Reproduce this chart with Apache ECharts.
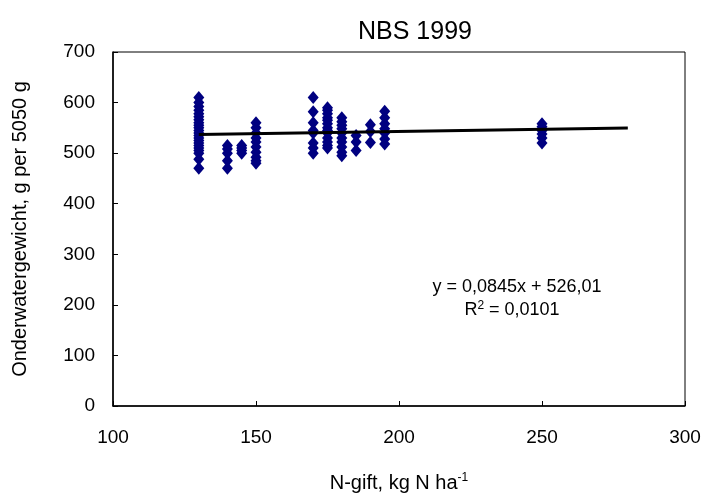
<!DOCTYPE html>
<html><head><meta charset="utf-8">
<script src="https://cdn.jsdelivr.net/npm/echarts@6/dist/echarts.min.js"></script>
<style>html,body{margin:0;padding:0;background:#fff}#c{width:706px;height:498px}</style>
</head><body><div id="c"></div>
<script>
// N-gift (x) groups and observed values (y)
const x130 = [610,600,592,585,578,572,566,560,555,550,545,540,535,530,525,520,515,510,505,500,488,470];
const x140 = [515,508,500,485,470];
const x145 = [515,510,505,500];
const x150 = [560,550,540,530,522,512,502,492,485,480];
const x170 = [610,582,560,545,540,520,510,500];
const x175 = [590,585,578,570,565,558,550,545,540,530,522,515,510];
const x180 = [570,562,555,548,540,530,522,512,502,495];
const x185 = [535,522,505];
const x190 = [556,543,521];
const x195 = [583,570,558,548,540,528,518];
const x250 = [558,552,545,538,530,520];
const groups = [[130,x130],[140,x140],[145,x145],[150,x150],[170,x170],[175,x175],[180,x180],[185,x185],[190,x190],[195,x195],[250,x250]];
const trendCoef = [0.0845, 526.01];
const trendRange = [130, 280];

const points = [];
groups.forEach(([x, ys]) => ys.forEach(y => points.push([x, y])));
const trend = trendRange.map(x => [x, trendCoef[0]*x + trendCoef[1]]);

const FONT = '"Liberation Sans",Arial,sans-serif';
const chart = echarts.init(document.getElementById('c'));
chart.setOption({
  animation:false,
  backgroundColor:'#fff',
  title:{text:'NBS 1999',left:410,top:15,textAlign:'center',
    textStyle:{fontFamily:FONT,fontSize:25,fontWeight:'normal',color:'#000'}},
  grid:{left:113,top:52,width:572,height:354,show:true,borderColor:'#000',borderWidth:1,
    containLabel:false,outerBoundsMode:'none'},
  xAxis:{type:'value',min:100,max:300,interval:50,
    axisLine:{show:true,lineStyle:{color:'#000',width:1.5}},
    axisTick:{show:true,inside:true,length:5,lineStyle:{color:'#000'}},
    splitLine:{show:false},
    axisLabel:{fontFamily:FONT,fontSize:19,color:'#000',margin:22},
    name:'N-gift, kg N ha{sup|-1}',nameLocation:'middle',nameGap:66,
    nameTextStyle:{fontFamily:FONT,fontSize:20,color:'#000',
      rich:{sup:{fontFamily:FONT,fontSize:12,color:'#000',verticalAlign:'top',padding:[0,0,10,0]}}}
  },
  yAxis:{type:'value',min:0,max:700,interval:100,
    axisLine:{show:true,lineStyle:{color:'#000',width:1.5}},
    axisTick:{show:true,inside:true,length:5,lineStyle:{color:'#000'}},
    splitLine:{show:false},
    axisLabel:{fontFamily:FONT,fontSize:19,color:'#000',margin:18},
    name:'Onderwatergewicht, g per 5050 g',nameLocation:'middle',nameGap:83,
    nameTextStyle:{fontFamily:FONT,fontSize:20,color:'#000'}
  },
  graphic:[
    {type:'text',style:{text:'y = 0,0845x + 526,01',x:517,y:287,textAlign:'center',textVerticalAlign:'middle',
      fontFamily:FONT,fontSize:18,fill:'#000'}},
    {type:'text',style:{text:'R{s|2} = 0,0101',x:512,y:310,textAlign:'center',textVerticalAlign:'middle',
      fontFamily:FONT,fontSize:18,fill:'#000',
      rich:{s:{fontFamily:FONT,fontSize:12,fill:'#000',verticalAlign:'top',padding:[0,0,9,0]}}}}
  ],
  series:[
    {type:'scatter',data:points,symbol:'diamond',symbolSize:[11,13],
      itemStyle:{color:'#000080',opacity:1}},
    {type:'line',data:trend,symbol:'none',lineStyle:{color:'#000',width:3},z:5}
  ]
});
</script></body></html>
